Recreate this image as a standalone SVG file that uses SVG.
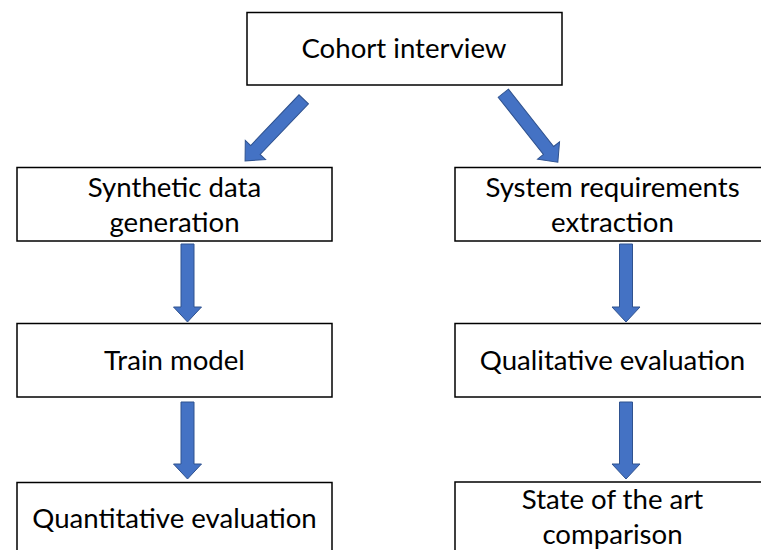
<svg xmlns="http://www.w3.org/2000/svg" width="761" height="550" viewBox="0 0 761 550">
<style>
.box{fill:#fff;stroke:#000;stroke-width:1.5}
.arr{fill:#4472C4;stroke:#2F528F;stroke-width:1}
.t{font-family:Lato,"Open Sans",sans-serif;font-size:27.6px;fill:#000;text-anchor:middle}
</style>
<rect width="761" height="550" fill="#fff"/>
<g id="connectors">
<path class="arr" transform="translate(303.7,99.3) rotate(133.6)" d="M0,-6.5H70V-14L85,0L70,14V6.5H0Z"/>
<path class="arr" transform="translate(503.3,93.2) rotate(51.7)" d="M0,-6.5H73V-14L88,0L73,14V6.5H0Z"/>
<path class="arr" transform="translate(187.5,244) rotate(90)" d="M0,-6.5H63V-14L78,0L63,14V6.5H0Z"/>
<path class="arr" transform="translate(187.5,402) rotate(90)" d="M0,-6.5H62V-14L77,0L62,14V6.5H0Z"/>
<path class="arr" transform="translate(626,244) rotate(90)" d="M0,-6.5H63V-14L78,0L63,14V6.5H0Z"/>
<path class="arr" transform="translate(626,402) rotate(90)" d="M0,-6.5H62V-14L77,0L62,14V6.5H0Z"/>
</g>
<g id="cohort"><rect class="box" x="247" y="12.5" width="315" height="72.5"/><text class="t" x="404" y="58">Cohort interview</text></g>
<g id="synthetic"><rect class="box" x="17" y="167.5" width="315" height="73.5"/><text class="t" x="174.5" y="197">Synthetic data</text><text class="t" x="174.5" y="232">generation</text></g>
<g id="sysreq"><rect class="box" x="455" y="167.5" width="315" height="73.5"/><text class="t" x="612.5" y="197">System requirements</text><text class="t" x="612.5" y="232">extraction</text></g>
<g id="train"><rect class="box" x="17" y="323.5" width="315" height="73.5"/><text class="t" x="174.5" y="370">Train model</text></g>
<g id="qualitative"><rect class="box" x="455" y="323.5" width="315" height="73.5"/><text class="t" x="612.5" y="370">Qualitative evaluation</text></g>
<g id="quantitative"><rect class="box" x="17" y="482.5" width="315" height="74"/><text class="t" x="174.5" y="527.5">Quantitative evaluation</text></g>
<g id="sota"><rect class="box" x="455" y="482" width="315" height="74"/><text class="t" x="612.5" y="509">State of the art</text><text class="t" x="612.5" y="544">comparison</text></g>
</svg>
